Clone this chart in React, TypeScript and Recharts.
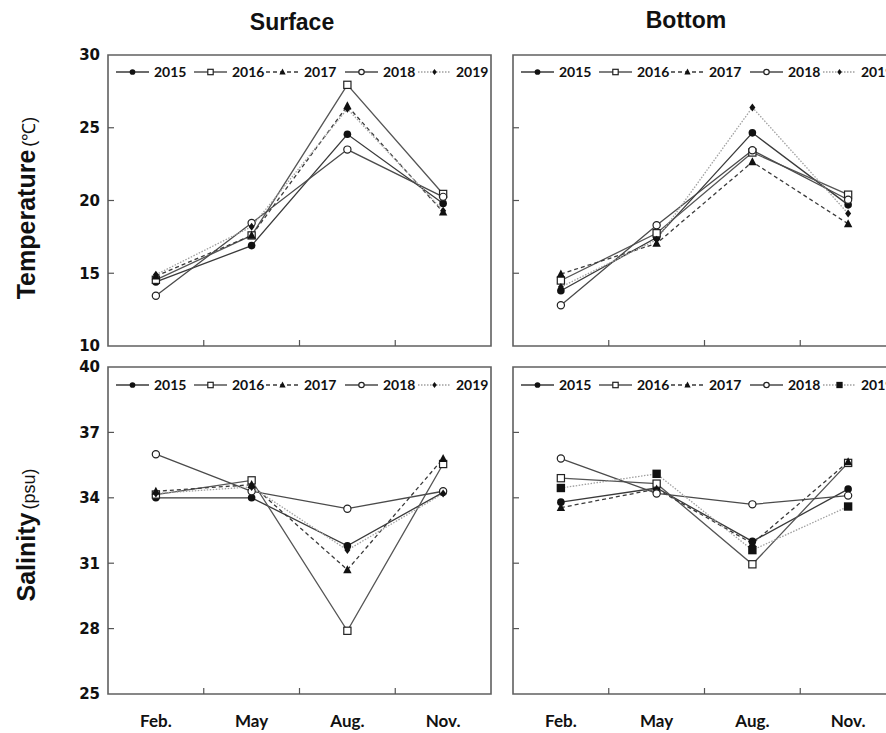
import React from 'react';
import { LineChart, Line, XAxis, YAxis, ReferenceArea } from 'recharts';

const MONTHS = ['Feb.', 'May', 'Aug.', 'Nov.'];
const YEARS = ['2015', '2016', '2017', '2018', '2019'];
const TEMP_TICKS = [10, 15, 20, 25, 30];
const SAL_TICKS = [25, 28, 31, 34, 37, 40];

// rows follow YEARS, columns follow MONTHS
const surfaceTemp = [
  [14.4, 16.9, 24.55, 19.8],
  [14.55, 17.6, 27.95, 20.45],
  [14.8, 17.6, 26.5, 19.2],
  [13.45, 18.45, 23.5, 20.25],
  [14.9, 18.2, 26.3, 19.3],
];
const bottomTemp = [
  [13.8, 17.45, 24.65, 19.7],
  [14.5, 17.75, 23.3, 20.4],
  [14.95, 17.05, 22.65, 18.4],
  [12.8, 18.3, 23.45, 20.05],
  [14.05, 17.3, 26.4, 19.1],
];
const surfaceSal = [
  [34.0, 34.0, 31.8, 34.25],
  [34.15, 34.8, 27.9, 35.55],
  [34.3, 34.6, 30.7, 35.8],
  [36.0, 34.3, 33.5, 34.3],
  [34.2, 34.5, 31.6, 34.2],
];
const bottomSal = [
  [33.8, 34.45, 32.0, 34.4],
  [34.9, 34.65, 30.95, 35.6],
  [33.55, 34.4, 31.9, 35.65],
  [35.8, 34.2, 33.7, 34.1],
  [34.45, 35.1, 31.6, 33.6],
];

const STYLES: Record<string, { stroke: string; dash?: string; marker: string }> = {
  '2015': { stroke: '#3a3a3a', marker: 'dot' },
  '2016': { stroke: '#555555', marker: 'square' },
  '2017': { stroke: '#3a3a3a', dash: '4 3', marker: 'triangle' },
  '2018': { stroke: '#4a4a4a', marker: 'circle' },
  '2019': { stroke: '#a0a0a0', dash: '1.5 1.5', marker: 'diamond' },
};

const PLOT_W = 383;
const Y_AXIS_W = 60;
const X_AXIS_H = 40;
const M_TOP = 15;

function marker(kind: string, cx: number, cy: number, s = 1, key?: any) {
  switch (kind) {
    case 'dot':
      return <circle key={key} cx={cx} cy={cy} r={3.8 * s} fill="#111" />;
    case 'square':
      return <rect key={key} x={cx - 3.6 * s} y={cy - 3.6 * s} width={7.2 * s} height={7.2 * s} fill="#fff" stroke="#222" strokeWidth={1.2} />;
    case 'fsquare':
      return <rect key={key} x={cx - 4.2 * s} y={cy - 4.2 * s} width={8.4 * s} height={8.4 * s} fill="#111" />;
    case 'triangle':
      return <polygon key={key} points={`${cx},${cy - 4.6 * s} ${cx + 4.2 * s},${cy + 3.4 * s} ${cx - 4.2 * s},${cy + 3.4 * s}`} fill="#111" />;
    case 'circle':
      return <circle key={key} cx={cx} cy={cy} r={3.6 * s} fill="#fff" stroke="#222" strokeWidth={1.2} />;
    default:
      return <polygon key={key} points={`${cx},${cy - 4 * s} ${cx + 3 * s},${cy} ${cx},${cy + 4 * s} ${cx - 3 * s},${cy}`} fill="#111" />;
  }
}

function buildRows(values: number[][]) {
  return MONTHS.map((m, i) => {
    const row: any = { pos: i + 0.5, month: m };
    YEARS.forEach((y, j) => {
      row[y] = values[j][i];
    });
    return row;
  });
}

const makeXTick = (showLabels: boolean) => (props: any) => {
  const { x, y, payload } = props;
  const v = payload.value;
  if (Number.isInteger(v)) {
    return <line x1={x} x2={x} y1={y} y2={y - 6} stroke="#555" strokeWidth={1.2} />;
  }
  if (!showLabels) return <g />;
  return (
    <text x={x} y={y + 33} textAnchor="middle" fontFamily="Lato" fontWeight={700} fontSize={17} fill="#111">
      {MONTHS[Math.floor(v)]}
    </text>
  );
};

const makeYTick = (ticks: number[], showLabels: boolean) => (props: any) => {
  const { x, y, payload } = props;
  const v = payload.value;
  const inner = v !== ticks[0] && v !== ticks[ticks.length - 1];
  return (
    <g>
      {inner && <line x1={x} x2={x + 6} y1={y} y2={y} stroke="#555" strokeWidth={1.2} />}
      {showLabels && (
        <text x={x - 8} y={y} dy="0.36em" textAnchor="end" fontFamily="DejaVu Sans" fontWeight={700} fontSize={15} fill="#111">
          {v}
        </text>
      )}
    </g>
  );
};

interface PanelProps {
  left: number;
  top: number;
  height: number;
  values: number[][];
  ticks: number[];
  showYLabels: boolean;
  showXLabels: boolean;
  lastMarker: string;
}

const Panel = ({ left, top, height, values, ticks, showYLabels, showXLabels, lastMarker }: PanelProps) => {
  const rows = buildRows(values);
  const yMin = ticks[0];
  const yMax = ticks[ticks.length - 1];
  return (
    <div style={{ position: 'absolute', left: left - Y_AXIS_W, top: top - M_TOP }}>
      <LineChart
        width={Y_AXIS_W + PLOT_W + 5}
        height={M_TOP + height + X_AXIS_H}
        data={rows}
        margin={{ top: M_TOP, right: 5, left: 0, bottom: 0 }}
      >
        <XAxis
          dataKey="pos"
          type="number"
          domain={[0, 4]}
          ticks={[0.5, 1, 1.5, 2, 2.5, 3, 3.5]}
          interval={0}
          height={X_AXIS_H}
          axisLine={false}
          tickLine={false}
          tickSize={0}
          tickMargin={0}
          tick={makeXTick(showXLabels)}
        />
        <YAxis
          type="number"
          domain={[yMin, yMax]}
          ticks={ticks}
          interval={0}
          width={Y_AXIS_W}
          axisLine={false}
          tickLine={false}
          tickSize={0}
          tickMargin={0}
          tick={makeYTick(ticks, showYLabels)}
        />
        <ReferenceArea x1={0} x2={4} y1={yMin} y2={yMax} fill="none" stroke="#606060" strokeWidth={1.6} strokeOpacity={1} />
        {YEARS.map((yr) => {
          const st = STYLES[yr];
          const kind = yr === '2019' ? lastMarker : st.marker;
          return (
            <Line
              key={yr}
              dataKey={yr}
              stroke={st.stroke}
              strokeWidth={1.3}
              strokeDasharray={st.dash}
              isAnimationActive={false}
              dot={(p: any) => marker(kind, p.cx, p.cy, 1, `${yr}-${p.index}`)}
              activeDot={false}
            />
          );
        })}
      </LineChart>
    </div>
  );
};

const LEGEND_OFFSETS = [8, 86, 158, 237, 310];

const LegendRow = ({ x0, y, lastMarker }: { x0: number; y: number; lastMarker: string }) => (
  <g>
    {YEARS.map((yr, i) => {
      const st = STYLES[yr];
      const kind = yr === '2019' ? lastMarker : st.marker;
      const lx = x0 + LEGEND_OFFSETS[i];
      return (
        <g key={yr}>
          <line x1={lx} x2={lx + 33} y1={y} y2={y} stroke={st.stroke} strokeWidth={1.3} strokeDasharray={st.dash} />
          {marker(kind, lx + 16.5, y, 0.75)}
          <text x={lx + 38} y={y} dy="0.35em" fontFamily="Lato" fontWeight={700} fontSize={14} fill="#111">
            {yr}
          </text>
        </g>
      );
    })}
  </g>
);

export default function App() {
  return (
    <div style={{ position: 'absolute', left: 0, top: 0, width: 886, height: 733, overflow: 'hidden', background: '#fff' }}>
      <Panel left={108} top={55} height={291} values={surfaceTemp} ticks={TEMP_TICKS} showYLabels showXLabels={false} lastMarker="diamond" />
      <Panel left={513} top={55} height={291} values={bottomTemp} ticks={TEMP_TICKS} showYLabels={false} showXLabels={false} lastMarker="diamond" />
      <Panel left={108} top={367} height={327} values={surfaceSal} ticks={SAL_TICKS} showYLabels showXLabels lastMarker="diamond" />
      <Panel left={513} top={367} height={327} values={bottomSal} ticks={SAL_TICKS} showYLabels={false} showXLabels lastMarker="fsquare" />
      <svg width={886} height={733} style={{ position: 'absolute', left: 0, top: 0, pointerEvents: 'none' }}>
        <text x={292} y={30} textAnchor="middle" fontFamily="Liberation Sans" fontWeight={700} fontSize={23} fill="#111">
          Surface
        </text>
        <text x={686} y={28} textAnchor="middle" fontFamily="Liberation Sans" fontWeight={700} fontSize={23} fill="#111">
          Bottom
        </text>
        <text transform="translate(35,208) rotate(-90)" textAnchor="middle" fontFamily="Liberation Sans" fill="#111">
          <tspan fontWeight={700} fontSize={25}>Temperature</tspan>
          <tspan fontSize={18} dx={3}>(℃)</tspan>
        </text>
        <text transform="translate(35,535) rotate(-90)" textAnchor="middle" fontFamily="Liberation Sans" fill="#111">
          <tspan fontWeight={700} fontSize={25}>Salinity</tspan>
          <tspan fontSize={18} dx={3}>(psu)</tspan>
        </text>
        <LegendRow x0={108} y={72} lastMarker="diamond" />
        <LegendRow x0={513} y={72} lastMarker="diamond" />
        <LegendRow x0={108} y={385} lastMarker="diamond" />
        <LegendRow x0={513} y={385} lastMarker="fsquare" />
      </svg>
    </div>
  );
}
